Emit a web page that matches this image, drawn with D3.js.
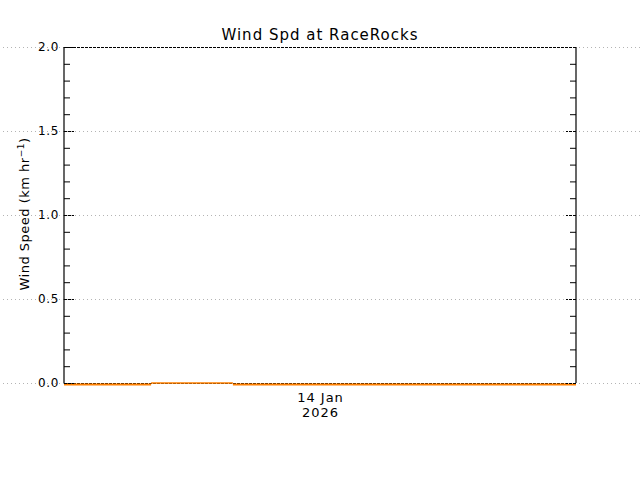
<!DOCTYPE html>
<html>
<head>
<meta charset="utf-8">
<script src="https://cdn.jsdelivr.net/npm/d3@7"></script>
<style>
  body { margin: 0; background: #fff; }
  text { font-family: 'DejaVu Sans', sans-serif; fill: #000; }
</style>
</head>
<body>
<div id="chart"></div>
<script>
// Wind speed observations (km/hr)
const obsTimes = [
  '2026-01-13T12:00', '2026-01-13T13:00', '2026-01-13T14:00', '2026-01-13T15:00',
  '2026-01-13T16:00', '2026-01-13T16:05', '2026-01-13T19:55', '2026-01-13T21:00',
  '2026-01-13T22:00', '2026-01-13T23:00', '2026-01-14T00:00', '2026-01-14T01:00',
  '2026-01-14T02:00', '2026-01-14T03:00', '2026-01-14T04:00', '2026-01-14T05:00',
  '2026-01-14T06:00', '2026-01-14T07:00', '2026-01-14T08:00', '2026-01-14T09:00',
  '2026-01-14T10:00', '2026-01-14T11:00', '2026-01-14T12:00',
]
const obsSpeed = [
  0, 0, 0, 0,
  0, 0, 0, 0,
  0, 0, 0, 0,
  0, 0, 0, 0,
  0, 0, 0, 0,
  0, 0, 0,
]
// no readings between these two times (gap is bridged by a thin line)
const gapTimes = ['2026-01-13T16:05', '2026-01-13T19:55']

const xDomain = ['2026-01-13T12:00', '2026-01-14T12:00']
const xTickTimes = ['2026-01-14T00:00']
const xTickLabels = [['14 Jan', '2026']]

const yMajorTicks = [0, 0.5, 1.0, 1.5, 2.0]
const yMinorTicks = [0.1, 0.2, 0.3, 0.4, 0.6, 0.7, 0.8, 0.9, 1.1, 1.2, 1.3, 1.4, 1.6, 1.7, 1.8, 1.9]
const yDomain = [0, 2]

const W = 640
const H = 480
const margin = { top: 47, right: 64, bottom: 97, left: 64 }
const width = W - margin.left - margin.right
const height = H - margin.top - margin.bottom

const parseTime = d3.utcParse('%Y-%m-%dT%H:%M')
const data = obsTimes.map((t, i) => ({ date: parseTime(t), value: obsSpeed[i] }))

const svgRoot = d3
  .select('#chart')
  .append('svg')
  .attr('width', W)
  .attr('height', H)

const x = d3.scaleUtc().domain(xDomain.map(parseTime)).range([0, width])
const y = d3.scaleLinear().domain(yDomain).range([height, 0])

// dotted grid lines across the whole picture
svgRoot
  .append('g')
  .attr('transform', `translate(${W},${margin.top})`)
  .call(d3.axisLeft(y).tickValues(yMajorTicks).tickSize(W).tickFormat(''))
  .call((g) => g.select('.domain').remove())
  .call((g) =>
    g
      .selectAll('.tick line')
      .attr('stroke', '#b4b4b4')
      .attr('stroke-dasharray', '1,3')
      .attr('shape-rendering', 'crispEdges')
  )

const svg = svgRoot
  .append('g')
  .attr('transform', `translate(${margin.left},${margin.top})`)

// top and bottom borders (dashed)
svg
  .append('g')
  .call(d3.axisTop(x).tickValues([]).tickSizeOuter(0))
  .call((g) => g.select('.domain').attr('stroke-dasharray', '3,1').attr('shape-rendering', 'crispEdges'))
svg
  .append('g')
  .attr('transform', `translate(0,${height})`)
  .call(d3.axisBottom(x).tickValues([]).tickSizeOuter(0))
  .call((g) => g.select('.domain').attr('stroke-dasharray', '3,1').attr('shape-rendering', 'crispEdges'))

// data: bridge over missing stretch, then the readings
const line = d3
  .line()
  .x((d) => x(d.date))
  .y((d) => y(d.value))

const gapData = gapTimes.map((t) => ({ date: parseTime(t), value: obsSpeed[obsTimes.indexOf(t)] }))

svg
  .append('path')
  .datum(gapData)
  .attr('d', line)
  .attr('fill', 'none')
  .attr('stroke', '#ff8000')
  .attr('stroke-width', 1.5)

const segs = [data.filter((d) => d.date <= gapData[0].date), data.filter((d) => d.date >= gapData[1].date)]
svg
  .selectAll('.obs')
  .data(segs)
  .enter()
  .append('path')
  .attr('class', 'obs')
  .attr('d', line)
  .attr('fill', 'none')
  .attr('stroke', '#ff8000')
  .attr('stroke-width', 2)
  .attr('transform', 'translate(0,1.5)')

// left axis
svg
  .append('g')
  .call(d3.axisLeft(y).tickValues(yMajorTicks).tickSize(-10).tickPadding(5).tickFormat(d3.format('.1f')))
  .call((g) => g.select('.domain').attr('stroke-width', 1.2).attr('d', `M0,0V${height}`))
  .call((g) => g.selectAll('.tick line').attr('stroke-dasharray', '3,1'))
  .selectAll('text')
  .style('font-size', '12px')
  .style('letter-spacing', '0.6px')
svg
  .append('g')
  .call(d3.axisLeft(y).tickValues(yMinorTicks).tickSize(-6).tickFormat(''))
  .call((g) => g.select('.domain').remove())

// right axis
svg
  .append('g')
  .attr('transform', `translate(${width},0)`)
  .call(d3.axisRight(y).tickValues(yMajorTicks).tickSize(-10).tickFormat(''))
  .call((g) => g.select('.domain').attr('stroke-width', 1.2).attr('d', `M0,0V${height}`))
  .call((g) => g.selectAll('.tick line').attr('stroke-dasharray', '3,1'))
svg
  .append('g')
  .attr('transform', `translate(${width},0)`)
  .call(d3.axisRight(y).tickValues(yMinorTicks).tickSize(-6).tickFormat(''))
  .call((g) => g.select('.domain').remove())

// x tick labels (two lines)
const xt = svg
  .append('g')
  .attr('transform', `translate(0,${height})`)
  .call(d3.axisBottom(x).tickValues(xTickTimes.map(parseTime)).tickSize(0).tickFormat(''))
  .call((g) => g.select('.domain').remove())
xt.selectAll('.tick')
  .append('text')
  .attr('text-anchor', 'middle')
  .style('font-size', '13px')
  .style('letter-spacing', '1px')
  .selectAll('tspan')
  .data((d, i) => xTickLabels[i])
  .enter()
  .append('tspan')
  .attr('x', 0)
  .attr('y', (d, i) => 19 + i * 15)
  .text((d) => d)

// title
svgRoot
  .append('text')
  .attr('x', margin.left + width / 2)
  .attr('y', 40)
  .attr('text-anchor', 'middle')
  .style('font-size', '15px')
  .style('letter-spacing', '1px')
  .text('Wind Spd at RaceRocks')

// y label
const yl = svgRoot
  .append('text')
  .attr('transform', `translate(29,${margin.top + height / 2 - 1}) rotate(-90)`)
  .attr('text-anchor', 'middle')
  .style('font-size', '13px')
  .style('letter-spacing', '0.5px')
yl.append('tspan').text('Wind Speed (km hr')
yl.append('tspan').attr('dy', -5).style('font-size', '9px').text('−1')
yl.append('tspan').attr('dy', 5).text(')')
</script>
</body>
</html>
